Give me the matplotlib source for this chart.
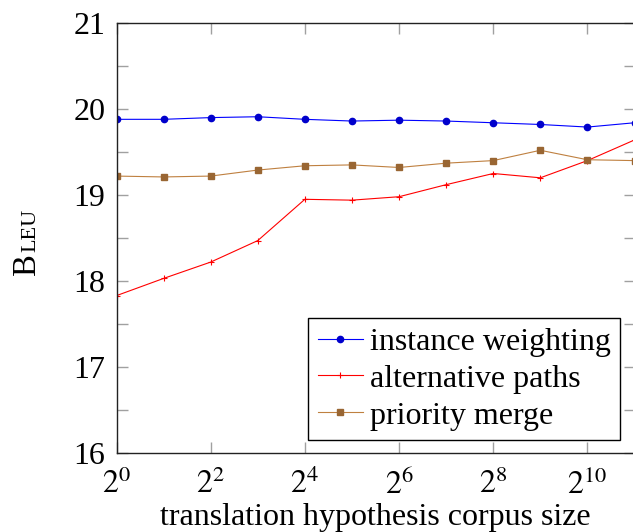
import numpy as np
import matplotlib.pyplot as plt
from matplotlib.ticker import FixedLocator, FixedFormatter, NullLocator, MultipleLocator

plt.rcParams['font.family'] = ['Liberation Serif', 'DejaVu Serif']
plt.rcParams['mathtext.fontset'] = 'stix'

# corpus sizes 2^0 .. 2^11
corpus_size = [1, 2, 4, 8, 16, 32, 64, 128, 256, 512, 1024, 2048]
instance_weighting = [19.88, 19.88, 19.90, 19.91, 19.88, 19.86, 19.87, 19.86, 19.84, 19.82, 19.79, 19.84]
alternative_paths = [17.83, 18.03, 18.22, 18.47, 18.95, 18.94, 18.98, 19.12, 19.25, 19.20, 19.40, 19.64]
priority_merge = [19.22, 19.21, 19.22, 19.29, 19.34, 19.35, 19.32, 19.37, 19.40, 19.52, 19.41, 19.40]

tick_exp = [0, 2, 4, 6, 8, 10]

W, H = 633, 532
FS = 23
fig = plt.figure(figsize=(W / 100, H / 100), dpi=100)
ax = fig.add_axes([116.5 / W, (H - 453) / H, (634.5 - 116.5) / W, (453 - 23) / H])

ax.plot(corpus_size, instance_weighting, color='blue', lw=0.8, marker='o', ms=4.5,
        mfc=(0, 0, 0.8), mec=(0, 0, 0.8), label='instance weighting')
ax.plot(corpus_size, alternative_paths, color='red', lw=0.8, marker='+', ms=5, mew=0.8,
        label='alternative paths')
ax.plot(corpus_size, priority_merge, color=(0.75, 0.5, 0.25), lw=0.8, marker='s', ms=4.3,
        mfc=(0.6, 0.4, 0.2), mec=(0.6, 0.4, 0.2), label='priority merge')

ax.set_xscale('log', base=2)
ax.set_xlim(1, 2048)
ax.set_ylim(16, 21)
ax.xaxis.set_major_locator(FixedLocator([2 ** e for e in tick_exp]))
ax.xaxis.set_major_formatter(FixedFormatter([r'$2^{%d}$' % e for e in tick_exp]))
ax.xaxis.set_minor_locator(NullLocator())
ax.yaxis.set_major_locator(MultipleLocator(1))
ax.yaxis.set_minor_locator(MultipleLocator(0.5))

ax.tick_params(which='both', direction='in', top=True, right=True, color='#a0a0a0',
               labelsize=FS, length=8, width=1)
ax.tick_params(axis='x', pad=12)
ax.tick_params(axis='y', pad=8)
for s in ax.spines.values():
    s.set_color('#222222')
    s.set_linewidth(1)

fig.text(375.5 / W, (H - 525) / H, 'translation hypothesis corpus size', fontsize=FS,
         ha='center', va='baseline')

# small caps "BLEU" label
tb = fig.text(35.5 / W, (H - 275) / H, 'B', fontsize=FS + 0.5, rotation=90,
              rotation_mode='anchor', ha='left', va='baseline')
fig.canvas.draw()
bb = tb.get_window_extent()
fig.text(35.5 / W, (bb.y1 + 1) / H, 'LEU', fontsize=16, rotation=90,
         rotation_mode='anchor', ha='left', va='baseline')

leg = ax.legend(loc='lower right', bbox_to_anchor=(0.972, 0.03), borderaxespad=0,
                fontsize=FS, fancybox=False, framealpha=1, edgecolor='black',
                handlelength=1.41, labelspacing=0.235, borderpad=0.3, handletextpad=0.21)
leg.get_frame().set_linewidth(1)

fig.savefig('out.png', dpi=100)
